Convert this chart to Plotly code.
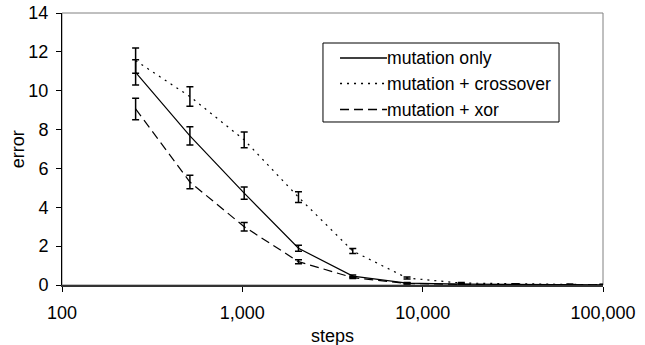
import plotly.graph_objects as go

steps = [256, 512, 1024, 2048, 4096, 8192, 16384, 32768, 65536, 100000]

mut_only = [10.94, 7.68, 4.73, 1.89, 0.46, 0.10, 0.04, 0.02, 0.01, 0.01]
mut_only_err = [0.65, 0.47, 0.32, 0.15, 0.06, 0.03, 0.02, 0.01, 0.01, 0.01]

mut_cross = [11.55, 9.70, 7.47, 4.52, 1.75, 0.36, 0.10, 0.05, 0.03, 0.02]
mut_cross_err = [0.65, 0.50, 0.40, 0.28, 0.13, 0.05, 0.03, 0.02, 0.01, 0.01]

mut_xor = [9.06, 5.30, 3.00, 1.20, 0.38, 0.08, 0.03, 0.01, 0.01, 0.01]
mut_xor_err = [0.55, 0.35, 0.22, 0.10, 0.05, 0.03, 0.02, 0.01, 0.01, 0.01]

series_names = ["mutation only", "mutation + crossover", "mutation + xor"]

x_tickvals = [100, 1000, 10000, 100000]
x_ticktext = ["100", "1,000", "10,000", "100,000"]
y_tickvals = [0, 2, 4, 6, 8, 10, 12, 14]

FONT = "Liberation Sans, Arial, sans-serif"
FS = 18
DASHES = ["solid", "2px,5px", "9px,5px"]

fig = go.Figure()

series = [
    (series_names[0], mut_only, mut_only_err, DASHES[0]),
    (series_names[1], mut_cross, mut_cross_err, DASHES[1]),
    (series_names[2], mut_xor, mut_xor_err, DASHES[2]),
]
for name, ys, errs, dash in series:
    fig.add_trace(go.Scatter(
        x=steps, y=ys, name=name, mode="lines", showlegend=False,
        line=dict(color="black", width=1.2, dash=dash),
        error_y=dict(type="data", array=errs, visible=True,
                     color="black", thickness=1.5, width=3.5),
    ))

# Legend box (drawn manually to match the original layout)
shapes = [dict(type="rect", xref="paper", yref="paper", x0=0, y0=0, x1=1, y1=1,
               line=dict(color="#808080", width=1), layer="below"),
          dict(type="rect", xref="paper", yref="paper", x0=0.4824, x1=0.9187,
               y0=0.5993, y1=0.8897, line=dict(color="black", width=1),
               fillcolor="white", layer="above")]
annotations = []
row_y = [0.8346, 0.7408, 0.6452]
for name, dash, ry in zip(series_names, DASHES, row_y):
    shapes.append(dict(type="line", xref="paper", yref="paper",
                       x0=0.5139, x1=0.6007, y0=ry, y1=ry,
                       line=dict(color="black", width=1.3, dash=dash)))
    annotations.append(dict(text=name, xref="paper", yref="paper", x=0.5965, y=ry,
                            xanchor="left", yanchor="middle", showarrow=False,
                            font=dict(family=FONT, size=17.6)))

annotations += [
    dict(text="error", xref="paper", yref="paper", x=-0.081, y=0.5,
         xanchor="center", yanchor="middle", textangle=-90, showarrow=False,
         font=dict(family=FONT, size=FS)),
    dict(text="steps", xref="paper", yref="paper", x=0.5, y=-0.187,
         xanchor="center", yanchor="middle", showarrow=False,
         font=dict(family=FONT, size=FS)),
]

fig.update_layout(
    width=645, height=345,
    margin=dict(l=62, r=42, t=13, b=60, autoexpand=False),
    paper_bgcolor="white", plot_bgcolor="white",
    font=dict(family=FONT, size=FS, color="black"),
    showlegend=False,
    shapes=shapes,
    annotations=annotations,
)

fig.update_xaxes(
    type="log", range=[2, 5], automargin=False,
    tickvals=x_tickvals, ticktext=x_ticktext,
    ticks="outside", ticklen=5, tickcolor="black", ticklabelstandoff=5,
    ticklabeloverflow="allow",
    showline=True, linecolor="#333333", linewidth=2,
    showgrid=False, zeroline=False,
)
fig.update_yaxes(
    range=[0, 14], tickvals=y_tickvals, automargin=False,
    ticks="outside", ticklen=5, tickcolor="black", ticklabelstandoff=4,
    ticklabeloverflow="allow",
    showline=True, linecolor="black", linewidth=1,
    showgrid=False, zeroline=False,
)

fig.write_html("out.html", config={"displayModeBar": False},
               post_script="document.body.style.margin='0';")
